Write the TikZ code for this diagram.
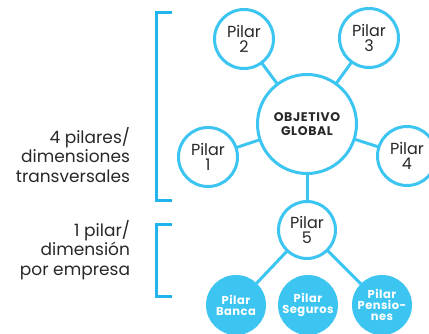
\documentclass[tikz,border=0pt]{standalone}
\usepackage{fontspec}
\setmainfont{Poppins}
\usetikzlibrary{positioning}
\definecolor{pilarblue}{RGB}{61,197,242}
\definecolor{bracketblue}{RGB}{34,180,236}
\definecolor{textgrey}{RGB}{40,40,40}
\tikzset{
  every node/.style={outer sep=0mm,inner sep=0mm,text=textgrey},
  link/.style={draw=pilarblue,line width=3pt}
}
\tikzset{pilar/.style={
    circle,
    draw=pilarblue,
    line width=3pt,
    fill=white,
    minimum size=#1,
    align=center,
    font=\fontsize{16}{14.5}\selectfont
  },
  pilar/.default=59pt}
\tikzset{empresa/.style={
    circle,
    fill=pilarblue,
    minimum size=60pt,
    align=center,
    text=white,
    font=\bfseries\fontsize{11.5}{11}\selectfont\addfontfeatures{LetterSpace=4}
  }}
\tikzset{nota/.style={
    anchor=east,
    align=right,
    font=\fontsize{17}{19.5}\selectfont
  }}

\begin{document}
\begin{tikzpicture}[x=1pt,y=1pt]
  \useasboundingbox (0,0) rectangle (429,333);

  \node (Objetivo) [pilar=99pt,font=\bfseries\fontsize{12.5}{13.5}\selectfont\addfontfeatures{LetterSpace=5}] at (307,209) {OBJETIVO\\GLOBAL};
  \node (Pilar_1) [pilar] at (208,176) {Pilar\\1};
  \node (Pilar_2) [pilar] at (244,294) {Pilar\\2};
  \node (Pilar_3) [pilar] at (369,295) {Pilar\\3};
  \node (Pilar_4) [pilar] at (407,177) {Pilar\\4};
  \node (Pilar_5) [pilar=57pt] at (307,103) {Pilar\\5};

  \node (Pilar_banca) [empresa] at (236,28) {Pilar\\Banca};
  \node (Pilar_seguros) [empresa] at (308,28) {Pilar\\Seguros};
  \node (Pilar_pensiones) [empresa] at (382,28) {Pilar\\Pensio-\\nes};

  \draw [link] (Objetivo) -- (Pilar_1);
  \draw [link] (Objetivo) -- (Pilar_2);
  \draw [link] (Objetivo) -- (Pilar_3);
  \draw [link] (Objetivo) -- (Pilar_4);
  \draw [link] (Objetivo) -- (Pilar_5);
  \draw [link] (Pilar_5) -- (Pilar_banca);
  \draw [link] (Pilar_5) -- (Pilar_pensiones);

  % brackets
  \draw [bracketblue,line width=3pt] (172,320) -- (156,320) -- (156,133) -- (172,133);
  \draw [bracketblue,line width=3pt] (172,109) -- (156,109) -- (156,37) -- (172,37);

  \node (Nota_transversal) [nota] at (130,178) {4 pilares/\\dimensiones\\transversales};
  \node (Nota_empresa) [nota] at (130,83) {1 pilar/\\dimensión\\por empresa};
\end{tikzpicture}
\end{document}
